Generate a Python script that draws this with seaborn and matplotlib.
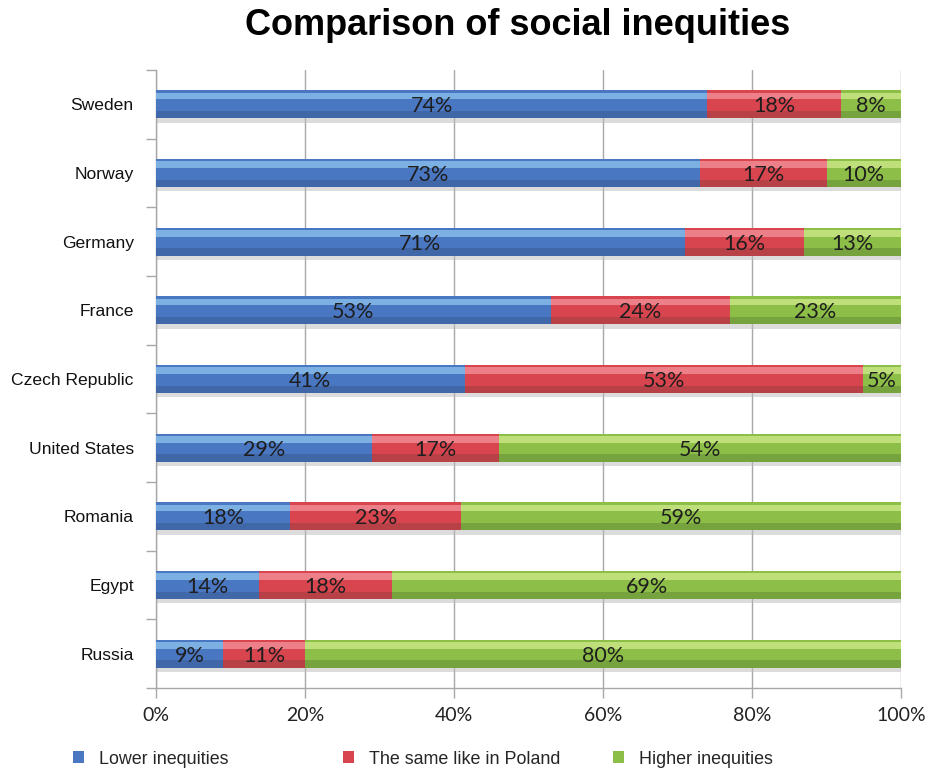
import numpy as np
import pandas as pd
import matplotlib
matplotlib.use("Agg")
import matplotlib.pyplot as plt
import seaborn as sns
from matplotlib.patches import Rectangle, Patch
from matplotlib.ticker import FixedLocator

countries = ["Sweden", "Norway", "Germany", "France", "Czech Republic",
             "United States", "Romania", "Egypt", "Russia"]
lower = [74, 73, 71, 53, 41, 29, 18, 14, 9]
same = [18, 17, 16, 24, 53, 17, 23, 18, 11]
higher = [8, 10, 13, 23, 5, 54, 59, 69, 80]
series_names = ["Lower inequities", "The same like in Poland", "Higher inequities"]
xticks = [0, 20, 40, 60, 80, 100]
xtick_labels = ["0%", "20%", "40%", "60%", "80%", "100%"]

colors = ["#4A77C2", "#D9454F", "#8DBE48"]
light = ["#86BBE8", "#F08A92", "#C9E684"]
dark = ["#3D62A0", "#AE3F45", "#6F9A3A"]

sns.set_theme(style="white")
plt.rcParams['font.family'] = ['Liberation Sans', 'DejaVu Sans']

vals = np.array([lower, same, higher], dtype=float)
tot = vals.sum(axis=0)
shares = vals / tot * 100
cum = np.cumsum(shares, axis=0)

df = pd.DataFrame({"country": countries,
                   "c1": cum[0], "c2": cum[1], "c3": cum[2]})

fig = plt.figure(figsize=(9.3, 7.71), dpi=100)
ax = fig.add_axes([156/930, 1-688/771, 745/930, 618/771])

bar_w = 0.41
layers = []
for k in [2, 1, 0]:
    sns.barplot(data=df, x=f"c{k+1}", y="country", order=countries, orient="h",
                color=colors[k], saturation=1, width=bar_w, linewidth=0,
                ax=ax, zorder=3)
    layers.append((k, ax.containers[-1]))

# 3D-like shading on each segment
for k, cont in layers:
    for i, p in enumerate(cont.patches):
        x0 = cum[k - 1][i] if k > 0 else 0.0
        w = p.get_width() - x0
        y0 = p.get_y()
        h = p.get_height()
        ax.add_patch(Rectangle((x0, y0 + h*0.08), w, h*0.24, facecolor=light[k],
                               edgecolor="none", alpha=0.85, zorder=4))
        ax.add_patch(Rectangle((x0, y0 + h*0.74), w, h*0.26, facecolor=dark[k],
                               edgecolor="none", alpha=0.75, zorder=4))
        ax.add_patch(Rectangle((x0, y0 + h), w, h*0.15, facecolor="#BBBBBB",
                               edgecolor="none", alpha=0.5, zorder=2))

# data labels
for k in range(3):
    prev = cum[k - 1] if k > 0 else np.zeros(len(countries))
    for i in range(len(countries)):
        cx = (prev[i] + cum[k][i]) / 2
        ax.text(cx, i + 0.03, f"{int(vals[k][i])}%", ha="center", va="center",
                fontsize=15.5, color="#1E1E1E", family=["Lato", "DejaVu Sans"],
                zorder=10)

ax.set_xlim(0, 100)
ax.set_ylim(len(countries) - 0.5, -0.5)
ax.set_xticks(xticks)
ax.set_xticklabels(xtick_labels, family=["Lato", "DejaVu Sans"], fontsize=14,
                   color="#222222")
ax.xaxis.grid(True, color="#A8A8A8", linewidth=1, zorder=0)
ax.yaxis.grid(False)
ax.set_axisbelow(True)
ax.set_xlabel("")
ax.set_ylabel("")

for s in ["top", "right"]:
    ax.spines[s].set_visible(False)
for s in ["left", "bottom"]:
    ax.spines[s].set_color("#A8A8A8")
    ax.spines[s].set_linewidth(1)

ax.tick_params(axis="x", which="major", direction="out", length=7, width=1,
               color="#A8A8A8", pad=7, bottom=True)
ax.yaxis.set_minor_locator(FixedLocator(np.arange(-0.5, len(countries), 1.0)))
ax.tick_params(axis="y", which="minor", direction="out", length=7, width=1,
               color="#A8A8A8", left=True)
ax.tick_params(axis="y", which="major", length=0, pad=16, labelsize=12.6,
               labelcolor="#111111")

fig.text(0.557, 0.967, "Comparison of social inequities", ha="center", va="center",
         fontsize=26, fontweight="bold", color="black")

legend_x = [73/930, 343/930, 613/930]
for k in range(3):
    h = Patch(facecolor=colors[k], edgecolor="none")
    fig.legend(handles=[h], labels=[series_names[k]], loc="center left",
               bbox_to_anchor=(legend_x[k], 1 - 759/771), frameon=False,
               fontsize=12.9, handlelength=0.6, handleheight=0.6,
               handletextpad=0.85, borderaxespad=0, borderpad=0)

fig.savefig("out.png", dpi=100)
